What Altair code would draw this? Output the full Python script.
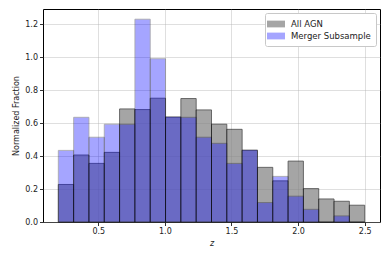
import altair as alt
import pandas as pd
import numpy as np

edges = np.linspace(0.2, 2.5, 21)
all_agn = [0.228, 0.407, 0.356, 0.423, 0.687, 0.683, 0.752, 0.636, 0.750, 0.681,
           0.594, 0.563, 0.435, 0.332, 0.250, 0.370, 0.203, 0.140, 0.126, 0.102]
merger = [0.435, 0.636, 0.515, 0.594, 0.594, 1.232, 0.992, 0.640, 0.636, 0.515,
          0.478, 0.356, 0.438, 0.118, 0.277, 0.157, 0.077, 0.0, 0.037, 0.0]
series = ["All AGN", "Merger Subsample"]

rows = []
for name, vals in zip(series, [all_agn, merger]):
    for i, v in enumerate(vals):
        rows.append({"series": name, "z0": edges[i], "z1": edges[i + 1], "frac": v, "base": 0.0})
df = pd.DataFrame(rows)

font = "DejaVu Sans"
chart = alt.Chart(df).mark_rect(stroke="black", strokeWidth=0.8).encode(
    x=alt.X("z0:Q", scale=alt.Scale(domain=[0.085, 2.615], nice=False, zero=False),
            axis=alt.Axis(title="z", values=[0.5, 1.0, 1.5, 2.0, 2.5], format=".1f",
                          titleFontStyle="italic", titleFontWeight="normal")),
    x2="z1:Q",
    y=alt.Y("frac:Q", scale=alt.Scale(domain=[0, 1.294], nice=False),
            axis=alt.Axis(title="Normalized Fraction", values=[0, 0.2, 0.4, 0.6, 0.8, 1.0, 1.2],
                          format=".1f", titleFontWeight="normal")),
    y2="base:Q",
    color=alt.Color("series:N", scale=alt.Scale(domain=series, range=["#808080", "#0000ff"]),
                    legend=alt.Legend(title=None, orient="top-right")),
    opacity=alt.Opacity("series:N", scale=alt.Scale(domain=series, range=[0.7, 0.35]),
                        legend=alt.Legend(title=None, orient="top-right")),
    order=alt.Order("series:N"),
).properties(
    width=337, height=213,
    autosize=alt.AutoSizeParams(type="none"),
    padding={"left": 35, "top": 1, "right": 2, "bottom": 30},
).configure_view(
    stroke="black", strokeWidth=1
).configure_axis(
    domain=False, grid=True, gridColor="#b0b0b0", gridOpacity=0.5, gridWidth=0.8,
    tickColor="black", tickSize=3.5, tickWidth=0.8,
    labelFont=font, labelFontSize=8, labelColor="#222", labelPadding=2,
    titleFont=font, titleFontSize=8, titleColor="#222", titlePadding=4, zindex=1,
).configure_legend(
    labelFont=font, labelFontSize=8.5, labelColor="#222", labelOffset=9,
    symbolType="M-1.6,-0.6H1.6V0.6H-1.6Z", symbolSize=127, symbolStrokeWidth=0.6,
    symbolStrokeColor="black",
    fillColor="white", strokeColor="#c8c8c8", strokeWidth=1, padding=5, cornerRadius=2,
    offset=4, rowPadding=1,
)

chart.save("out.html", embed_options={"renderer": "svg", "actions": False})
